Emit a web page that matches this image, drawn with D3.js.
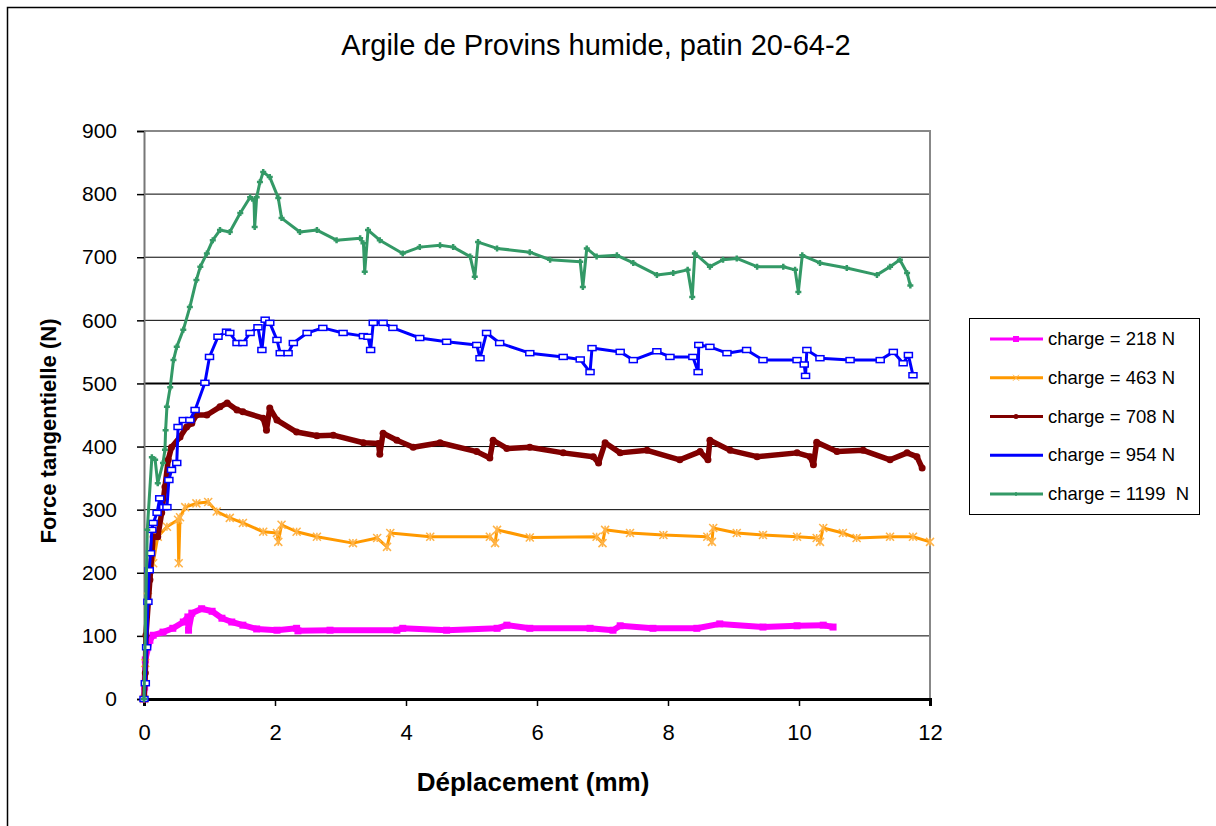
<!DOCTYPE html>
<html>
<head>
<meta charset="utf-8">
<script src="https://cdn.jsdelivr.net/npm/d3@7"></script>
<style>
    body { margin: 0; background: #fff; }
    text { font-family: "Liberation Sans", Arial, sans-serif; fill: #000; }
</style>
</head>
<body>
<div id="chart"></div>
<script>
// data: [deplacement (mm), force (N)]
var serie218 = [[0,0],[0.01,19],[0.02,62],[0.09,93],[0.14,101],[0.29,106],[0.44,112],[0.6,122],[0.67,130],[0.68,109],
    [0.73,136],[0.88,143],[1.04,139],[1.19,128],[1.34,122],[1.51,117],[1.72,111],[2.03,109],[2.33,112],[2.35,108],
    [2.84,109],[3.86,109],[3.95,112],[4.62,109],[5.39,112],[5.54,117],[5.89,112],[6.81,112],[7.16,109],[7.27,116],
    [7.77,112],[8.44,112],[8.79,119],[9.45,114],[9.97,116],[10.37,117],[10.52,114]];

var serie463 = [[0,0],[0.02,57],[0.06,162],[0.14,215],[0.21,257],[0.35,273],[0.52,284],[0.53,215],[0.55,288],[0.63,304],
    [0.8,310],[0.98,312],[1.11,297],[1.31,287],[1.51,279],[1.82,265],[2.03,263],[2.05,249],[2.1,276],[2.33,265],
    [2.64,257],[3.19,247],[3.56,255],[3.71,241],[3.76,263],[4.37,257],[5.28,257],[5.36,247],[5.39,268],[5.89,256],
    [6.91,257],[7.0,247],[7.04,268],[7.42,263],[7.93,260],[8.6,257],[8.67,249],[8.69,271],[9.05,263],[9.45,260],
    [9.97,257],[10.27,255],[10.32,249],[10.37,271],[10.67,263],[10.88,255],[11.39,257],[11.74,257],[12.0,249]];

var serie708 = [[0,0],[0.02,41],[0.03,101],[0.09,189],[0.14,257],[0.21,257],[0.27,295],[0.32,336],[0.37,379],[0.42,399],
    [0.55,415],[0.65,431],[0.73,437],[0.8,450],[0.96,450],[1.16,463],[1.27,469],[1.42,458],[1.51,455],[1.82,445],
    [1.87,426],[1.92,461],[2.03,442],[2.33,423],[2.64,417],[2.89,418],[3.35,406],[3.58,405],[3.6,388],[3.65,421],
    [3.86,410],[4.11,399],[4.52,406],[5.08,392],[5.28,382],[5.33,410],[5.54,397],[5.89,399],[6.4,390],[6.86,384],
    [6.94,374],[7.04,406],[7.27,390],[7.68,394],[8.18,379],[8.49,392],[8.61,379],[8.64,410],[8.95,394],[9.36,384],
    [9.97,390],[10.17,384],[10.22,371],[10.27,407],[10.58,392],[10.98,394],[11.39,379],[11.65,390],[11.8,384],[11.88,366]];

var serie954 = [[0,0],[0.02,25],[0.04,82],[0.06,154],[0.08,204],[0.1,231],[0.12,268],[0.14,279],[0.2,295],[0.24,318],
    [0.3,304],[0.35,304],[0.38,347],[0.42,363],[0.5,374],[0.52,431],[0.6,442],[0.7,442],[0.78,458],[0.93,501],
    [1.0,542],[1.13,574],[1.26,582],[1.31,580],[1.42,564],[1.51,564],[1.62,580],[1.74,589],[1.8,553],[1.85,601],
    [1.92,596],[2.03,569],[2.08,548],[2.2,548],[2.28,564],[2.49,580],[2.73,588],[3.04,580],[3.35,575],[3.42,574],
    [3.46,553],[3.5,596],[3.65,596],[3.8,588],[4.21,572],[4.62,566],[5.08,561],[5.13,540],[5.23,580],[5.43,564],
    [5.89,548],[6.4,542],[6.66,538],[6.81,518],[6.84,556],[7.27,550],[7.47,537],[7.83,551],[8.03,542],[8.38,542],
    [8.46,518],[8.47,561],[8.64,558],[8.9,548],[9.2,553],[9.45,537],[9.97,537],[10.08,530],[10.1,512],[10.12,553],
    [10.32,540],[10.78,537],[11.24,537],[11.44,550],[11.59,532],[11.67,545],[11.74,513]];

var serie1199 = [[0,0],[0.05,268],[0.12,383],[0.17,379],[0.21,342],[0.29,374],[0.32,395],[0.33,426],[0.35,463],[0.4,494],
    [0.45,537],[0.5,558],[0.6,585],[0.7,621],[0.8,664],[0.86,685],[0.96,706],[1.05,727],[1.16,743],[1.31,740],
    [1.47,770],[1.62,795],[1.68,790],[1.69,748],[1.72,795],[1.77,819],[1.82,835],[1.92,827],[2.05,794],[2.1,762],
    [2.38,740],[2.64,743],[2.94,727],[3.3,730],[3.35,722],[3.37,677],[3.42,743],[3.6,727],[3.95,706],[4.21,716],
    [4.52,719],[4.72,716],[4.98,701],[5.05,669],[5.1,724],[5.39,714],[5.89,708],[6.2,696],[6.66,693],[6.7,653],
    [6.76,714],[6.91,701],[7.22,703],[7.47,691],[7.83,672],[8.08,675],[8.3,680],[8.37,637],[8.41,706],[8.64,685],
    [8.84,696],[9.05,698],[9.36,685],[9.76,685],[9.94,680],[9.99,645],[10.05,703],[10.32,691],[10.73,683],[11.19,672],
    [11.39,685],[11.54,696],[11.65,675],[11.7,655]];

var seriesNames = ["charge = 218 N", "charge = 463 N", "charge = 708 N", "charge = 954 N", "charge = 1199  N"];
var xTicks = [0, 2, 4, 6, 8, 10, 12];
var yTicks = [0, 100, 200, 300, 400, 500, 600, 700, 800, 900];

var W = 1216, H = 826;
var plot = {left: 144, right: 930, top: 131, bottom: 699};

var svg = d3.select("#chart").append("svg")
    .attr("width", W)
    .attr("height", H);

// outer frame (runs past the right / bottom edge)
svg.append("rect")
    .attr("x", 7.5).attr("y", 7.5)
    .attr("width", W + 20).attr("height", H + 20)
    .attr("fill", "none")
    .attr("stroke", "#000")
    .attr("stroke-width", 1.5);

var x = d3.scaleLinear().domain([0, 12]).range([plot.left, plot.right]);
var y = d3.scaleLinear().domain([0, 900]).range([plot.bottom, plot.top]);

// gridlines
svg.append("g").selectAll("line")
    .data(yTicks.filter(function(d){ return d > 0 && d < 900; }))
    .enter().append("line")
    .attr("x1", plot.left).attr("x2", plot.right)
    .attr("y1", function(d){ return y(d); })
    .attr("y2", function(d){ return y(d); })
    .attr("stroke", "#000")
    .attr("stroke-width", function(d){ return d === 500 ? 2 : 1; });

// top + right border of plot area
svg.append("path")
    .attr("d", "M" + plot.left + "," + y(900) + "H" + x(12) + "V" + y(0))
    .attr("fill", "none")
    .attr("stroke", "#888")
    .attr("stroke-width", 2);

// y axis
var yAxis = d3.axisLeft(y).tickValues(yTicks).tickSize(7).tickPadding(20);
var gy = svg.append("g")
    .attr("transform", "translate(" + plot.left + ",0)")
    .call(yAxis);
gy.select(".domain").attr("stroke", "#777").attr("stroke-width", 2);
gy.selectAll(".tick line").attr("stroke", "#000").attr("stroke-width", 1.5);
gy.selectAll(".tick text")
    .style("font-size", "21px")
    .attr("fill", "#000");

// x axis
var xAxis = d3.axisBottom(x).tickValues(xTicks).tickSize(7).tickPadding(18);
var gx = svg.append("g")
    .attr("transform", "translate(0," + plot.bottom + ")")
    .call(xAxis);
gx.select(".domain").attr("stroke", "#000").attr("stroke-width", 3);
gx.selectAll(".tick line").attr("stroke", "#000").attr("stroke-width", 1.5);
gx.selectAll(".tick text")
    .style("font-size", "22px")
    .attr("fill", "#000");

// titles
svg.append("text")
    .attr("x", 596).attr("y", 55)
    .attr("text-anchor", "middle")
    .style("font-size", "29px")
    .text("Argile de Provins humide, patin 20-64-2");

svg.append("text")
    .attr("x", 533).attr("y", 791)
    .attr("text-anchor", "middle")
    .style("font-size", "26px")
    .style("font-weight", "bold")
    .text("Déplacement (mm)");

svg.append("text")
    .attr("transform", "translate(56,431) rotate(-90)")
    .attr("text-anchor", "middle")
    .style("font-size", "22px")
    .style("font-weight", "bold")
    .text("Force tangentielle (N)");

// series styles
var styles = [
    {data: serie218, color: "#FF00FF", width: 6, marker: "square"},
    {data: serie463, color: "#FF9900", width: 3, marker: "x"},
    {data: serie708, color: "#800000", width: 5.5, marker: "dot"},
    {data: serie954, color: "#0000FF", width: 3, marker: "rect"},
    {data: serie1199, color: "#339966", width: 3, marker: "cross"}
];

function drawMarker(g, type, color) {
    if (type === "square") {
        g.append("rect").attr("x", -3.5).attr("y", -3.5).attr("width", 7).attr("height", 7)
            .attr("fill", color);
    } else if (type === "x") {
        g.append("path").attr("d", "M-4,-4L4,4M-4,4L4,-4M0,-4V4")
            .attr("stroke", "#FFB347").attr("stroke-width", 1.5).attr("fill", "none");
    } else if (type === "dot") {
        g.append("circle").attr("r", 3.5).attr("fill", color);
    } else if (type === "rect") {
        g.append("rect").attr("x", -4).attr("y", -2.5).attr("width", 8).attr("height", 5)
            .attr("fill", "#fff").attr("stroke", color).attr("stroke-width", 1.5);
    } else if (type === "cross") {
        g.append("path").attr("d", "M-3,0H3M0,-3V3")
            .attr("stroke", color).attr("stroke-width", 2.5);
    }
}

var line = d3.line()
    .x(function(d){ return x(d[0]); })
    .y(function(d){ return y(d[1]); });

styles.forEach(function(s){
    var g = svg.append("g");
    g.append("path")
        .datum(s.data)
        .attr("d", line)
        .attr("fill", "none")
        .attr("stroke", s.color)
        .attr("stroke-width", s.width)
        .attr("stroke-linejoin", "round");
    g.selectAll(".pt")
        .data(s.data)
        .enter().append("g")
        .attr("class", "pt")
        .attr("transform", function(d){ return "translate(" + x(d[0]) + "," + y(d[1]) + ")"; })
        .each(function(){ drawMarker(d3.select(this), s.marker, s.color); });
});

// legend
var legend = svg.append("g");
legend.append("rect")
    .attr("x", 969.5).attr("y", 318.5)
    .attr("width", 230).attr("height", 196)
    .attr("fill", "#fff")
    .attr("stroke", "#000")
    .attr("stroke-width", 1);

var legendY = d3.scalePoint().domain(seriesNames).range([339, 494]);

styles.forEach(function(s, i){
    var ly = legendY(seriesNames[i]);
    legend.append("line")
        .attr("x1", 990).attr("x2", 1043)
        .attr("y1", ly).attr("y2", ly)
        .attr("stroke", s.color)
        .attr("stroke-width", 3);
    if (s.marker !== "rect") {
        var m = legend.append("g").attr("transform", "translate(1016," + ly + ")");
        if (s.marker === "square") {
            m.append("rect").attr("x", -3).attr("y", -3).attr("width", 6).attr("height", 6).attr("fill", s.color);
        } else if (s.marker === "x") {
            m.append("path").attr("d", "M-3,-3L3,3M-3,3L3,-3").attr("stroke", "#FFB347").attr("stroke-width", 1);
        } else if (s.marker === "dot") {
            m.append("circle").attr("r", 2.5).attr("fill", s.color);
        } else {
            m.append("path").attr("d", "M-2,0H2M0,-2V2").attr("stroke", s.color).attr("stroke-width", 1.5);
        }
    }
    legend.append("text")
        .attr("x", 1048).attr("y", ly + 6)
        .style("font-size", "18.5px")
        .style("white-space", "pre")
        .text(seriesNames[i]);
});
</script>
</body>
</html>
